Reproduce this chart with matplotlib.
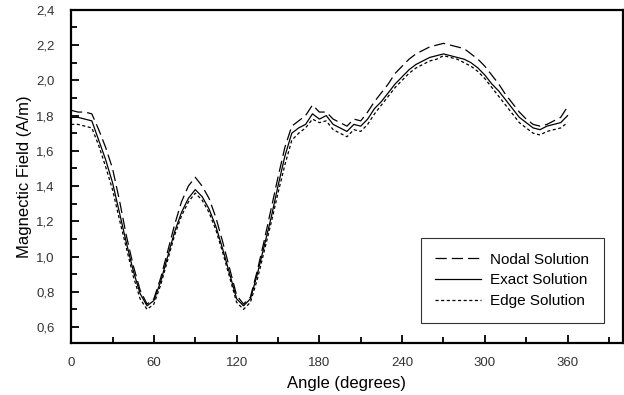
import matplotlib
matplotlib.use("Agg")
import matplotlib.pyplot as plt
from matplotlib.ticker import FuncFormatter, MultipleLocator

angle = [0, 5, 10, 15, 20, 25, 30, 35, 40, 45, 50, 55, 60, 65, 70, 75, 80, 85, 90,
         95, 100, 105, 110, 115, 120, 125, 130, 135, 140, 145, 150, 155, 160, 165, 170,
         175, 180, 185, 190, 195, 200, 205, 210, 215, 220, 225, 230, 235, 240, 245, 250,
         255, 260, 265, 270, 275, 280, 285, 290, 295, 300, 305, 310, 315, 320, 325, 330,
         335, 340, 345, 350, 355, 360]

nodal = [1.83, 1.82, 1.82, 1.81, 1.72, 1.62, 1.50, 1.32, 1.12, 0.95, 0.81, 0.73, 0.76,
         0.88, 1.03, 1.18, 1.31, 1.40, 1.45, 1.40, 1.33, 1.22, 1.08, 0.93, 0.78, 0.73,
         0.77, 0.92, 1.09, 1.27, 1.45, 1.62, 1.74, 1.77, 1.80, 1.86, 1.82, 1.82, 1.78,
         1.76, 1.74, 1.78, 1.77, 1.82, 1.88, 1.93, 1.98, 2.04, 2.08, 2.12, 2.15, 2.17,
         2.19, 2.20, 2.21, 2.20, 2.19, 2.18, 2.15, 2.12, 2.08, 2.03, 1.98, 1.92, 1.87,
         1.82, 1.78, 1.75, 1.74, 1.75, 1.77, 1.79, 1.85]

exact = [1.79, 1.79, 1.78, 1.77, 1.66, 1.55, 1.42, 1.25, 1.08, 0.92, 0.79, 0.72, 0.75,
         0.86, 1.00, 1.14, 1.25, 1.33, 1.38, 1.34, 1.27, 1.17, 1.04, 0.90, 0.76, 0.72,
         0.76, 0.90, 1.06, 1.22, 1.40, 1.57, 1.70, 1.73, 1.75, 1.81, 1.78, 1.80, 1.75,
         1.73, 1.71, 1.75, 1.74, 1.78, 1.84, 1.88, 1.93, 1.98, 2.02, 2.06, 2.09, 2.11,
         2.13, 2.14, 2.15, 2.14, 2.13, 2.12, 2.10, 2.07, 2.03, 1.98, 1.94, 1.89, 1.84,
         1.79, 1.76, 1.73, 1.72, 1.74, 1.75, 1.76, 1.80]

edge = [1.75, 1.75, 1.74, 1.73, 1.63, 1.51, 1.38, 1.21, 1.05, 0.89, 0.76, 0.70, 0.73,
        0.84, 0.98, 1.12, 1.23, 1.31, 1.36, 1.32, 1.25, 1.15, 1.02, 0.88, 0.74, 0.70,
        0.74, 0.87, 1.03, 1.19, 1.36, 1.52, 1.66, 1.70, 1.73, 1.78, 1.76, 1.77, 1.72,
        1.70, 1.68, 1.72, 1.71, 1.75, 1.81, 1.86, 1.91, 1.96, 2.00, 2.04, 2.07, 2.09,
        2.11, 2.12, 2.14, 2.13, 2.12, 2.10, 2.08, 2.05, 2.01, 1.96, 1.91, 1.86, 1.81,
        1.76, 1.73, 1.70, 1.69, 1.71, 1.72, 1.73, 1.76]

plt.rcParams['font.family'] = ['Liberation Sans', 'DejaVu Sans']

fig = plt.figure(figsize=(6.24, 3.95), dpi=100)
ax = fig.add_axes([0.114, 0.132, 0.884, 0.843])

ax.plot(angle, nodal, color="black", lw=0.9, dashes=(9, 4), label="Nodal Solution")
ax.plot(angle, exact, color="black", lw=0.9, label="Exact Solution")
ax.plot(angle, edge, color="black", lw=0.9, dashes=(2.5, 2), label="Edge Solution")

ax.set_xlim(0, 400)
ax.set_ylim(0.51, 2.4)
ax.xaxis.set_minor_locator(MultipleLocator(30))
ax.yaxis.set_major_locator(MultipleLocator(0.2))
ax.yaxis.set_minor_locator(MultipleLocator(0.1))
ax.set_xticks([0, 60, 120, 180, 240, 300, 360])
ax.yaxis.set_major_formatter(FuncFormatter(lambda v, p: f"{v:.1f}".replace(".", ",")))

ax.tick_params(which="both", direction="in", top=False, right=False,
               width=1.3, colors="black", labelcolor="#333333", labelsize=9.5)
ax.tick_params(which="major", length=6)
ax.tick_params(which="minor", length=4)
ax.tick_params(axis="y", pad=12)
ax.tick_params(axis="x", pad=10)
for s in ax.spines.values():
    s.set_linewidth(1.6)

ax.set_xlabel("Angle (degrees)", fontsize=12, labelpad=5)
ax.set_ylabel("Magnectic Field (A/m)", fontsize=12, labelpad=3)

leg = ax.legend(loc="lower right", bbox_to_anchor=(0.966, 0.06), fontsize=11,
                frameon=True, fancybox=False, edgecolor="black", handlelength=3.0,
                handletextpad=0.6, borderpad=0.95, labelspacing=0.45, borderaxespad=0)
leg.get_frame().set_linewidth(0.8)

fig.savefig("out.png", dpi=100)
